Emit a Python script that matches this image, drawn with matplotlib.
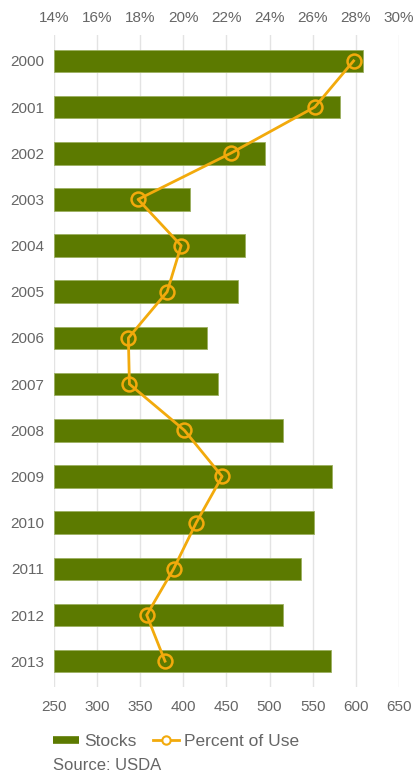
import matplotlib
matplotlib.use("Agg")
import matplotlib.pyplot as plt
from matplotlib.lines import Line2D

plt.rcParams['font.family'] = ['Liberation Sans', 'DejaVu Sans']

years = ["2000", "2001", "2002", "2003", "2004", "2005", "2006",
         "2007", "2008", "2009", "2010", "2011", "2012", "2013"]
stocks = [608, 582, 495, 408, 471, 464, 428, 440, 516, 573, 551, 536, 516, 571]
percent_of_use = [27.9, 26.1, 22.2, 17.9, 19.9, 19.25, 17.45, 17.5, 20.05,
                  21.8, 20.6, 19.55, 18.3, 19.15]
stock_ticks = [250, 300, 350, 400, 450, 500, 550, 600, 650]
pct_ticks = [14, 16, 18, 20, 22, 24, 26, 28, 30]

BAR = "#5c7a00"
BAR_EDGE = "#9cb060"
LINE = "#f2aa0c"
TEXT = "#666666"
GRID = "#e3e3e3"

fig = plt.figure(figsize=(4.16, 7.73), dpi=100)
ax = fig.add_axes([0.1298, 0.1112, 0.829, 0.8435])

ypos = list(range(len(years)))
ax.barh(ypos, [s - stock_ticks[0] for s in stocks], left=stock_ticks[0],
        height=0.49, color=BAR, edgecolor=BAR_EDGE, linewidth=0.6, zorder=2)
ax.set_xlim(stock_ticks[0], stock_ticks[-1])
ax.set_ylim(len(years) - 1 + 0.56, -0.56)
ax.set_xticks(stock_ticks)
ax.set_yticks(ypos)
ax.set_yticklabels(years)
ax.grid(axis='x', color=GRID, linewidth=1.0, zorder=0)
ax.set_axisbelow(True)
for s in ax.spines.values():
    s.set_visible(False)
ax.tick_params(axis='both', length=0, labelsize=11, labelcolor=TEXT)
ax.tick_params(axis='x', pad=9)
ax.tick_params(axis='y', pad=7)

ax2 = ax.twiny()
ax2.plot(percent_of_use, ypos, color=LINE, linewidth=2.0, marker='o',
         markersize=10, markerfacecolor='none', markeredgecolor=LINE,
         markeredgewidth=1.8, zorder=3)
ax2.set_xlim(pct_ticks[0], pct_ticks[-1])
ax2.set_xticks(pct_ticks)
ax2.set_xticklabels([f"{t}%" for t in pct_ticks])
ax2.set_ylim(ax.get_ylim())
for s in ax2.spines.values():
    s.set_visible(False)
ax2.tick_params(axis='x', length=0, labelsize=11, labelcolor=TEXT, pad=7)

handles = [
    Line2D([], [], color=BAR, linewidth=5.5, solid_capstyle='butt'),
    Line2D([], [], color=LINE, linewidth=2.0, marker='o', markersize=6,
           markerfacecolor='white', markeredgecolor=LINE, markeredgewidth=1.5),
]
leg = fig.legend(handles, ["Stocks", "Percent of Use"], loc='center left',
                 bbox_to_anchor=(0.127, 1 - 741 / 773), ncol=2, frameon=False,
                 fontsize=12.5, handlelength=1.5, handletextpad=0.3,
                 columnspacing=0.95, borderpad=0, borderaxespad=0)
for t in leg.get_texts():
    t.set_color(TEXT)

fig.text(0.127, 1 - 765 / 773, "Source: USDA", fontsize=12, color=TEXT,
         ha='left', va='center')

fig.savefig("out.png", dpi=100, facecolor='white')
